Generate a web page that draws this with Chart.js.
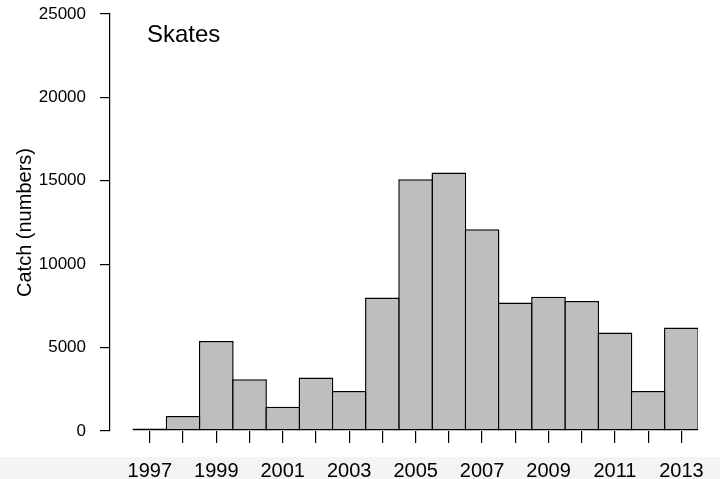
<!DOCTYPE html>
<html>
<head>
<meta charset="utf-8">
<script src="https://cdn.jsdelivr.net/npm/chart.js@4/dist/chart.umd.min.js"></script>
<style>
  html, body { margin: 0; padding: 0; }
  body { background: linear-gradient(to bottom, #ffffff 0, #ffffff 457px, #f4f4f4 457px); }
  #wrap { width: 720px; height: 479px; position: relative; }
</style>
</head>
<body>
<div id="wrap"><canvas id="skatesChart"></canvas></div>
<script>
// catch of skates per year
const years = [1997, 1998, 1999, 2000, 2001, 2002, 2003, 2004, 2005, 2006, 2007, 2008, 2009, 2010, 2011, 2012, 2013];
const catchNumbers = [0, 900, 5400, 3100, 1450, 3200, 2400, 8000, 15100, 15500, 12100, 7700, 8050, 7800, 5900, 2400, 6200];
const yTicks = [0, 5000, 10000, 15000, 20000, 25000];
const panelLabel = 'Skates';

const FONT = "'Liberation Sans', Arial, sans-serif";

// little plugin to write the panel label inside the plot
const panelText = {
    id: 'panelText',
    afterDraw(chart) {
        const ctx = chart.ctx;
        ctx.save();
        ctx.font = '24px ' + FONT;
        ctx.fillStyle = '#000';
        ctx.textBaseline = 'alphabetic';
        ctx.fillText(panelLabel, 147, 42);
        ctx.restore();
    }
};

const ctx = document.getElementById('skatesChart').getContext('2d');
new Chart(ctx, {
    type: 'bar',
    data: {
        datasets: [{
            data: years.map((y, i) => ({ x: y, y: catchNumbers[i] })),
            backgroundColor: '#bebebe',
            borderColor: '#000',
            borderWidth: 1.5,
            borderSkipped: false,
            // slight overlap so neighbouring bars share one outline
            barPercentage: 1.045,
            categoryPercentage: 1,
            minBarLength: 2.5
        }]
    },
    options: {
        responsive: true,
        maintainAspectRatio: false,
        animation: false,
        layout: { padding: { top: 14, right: 22, left: 0, bottom: 0 } },
        plugins: {
            legend: { display: false },
            tooltip: { enabled: false }
        },
        scales: {
            x: {
                type: 'linear',
                offset: false,
                min: 1995.8,
                max: 2013.5,
                afterBuildTicks: scale => { scale.ticks = years.map(v => ({ value: v })); },
                afterFit: scale => { scale.height = 48; scale.paddingLeft = 0; scale.paddingRight = 0; },
                border: { display: false },
                grid: { offset: false, drawOnChartArea: false, drawTicks: true, tickLength: 12, color: '#000', lineWidth: 1.2 },
                ticks: {
                    autoSkip: false,
                    maxRotation: 0,
                    padding: 16,
                    color: '#000',
                    font: { family: FONT, size: 20 },
                    callback: v => (v % 2 === 1 ? String(v) : '')
                }
            },
            y: {
                min: 0,
                max: 25000,
                afterBuildTicks: scale => { scale.ticks = yTicks.map(v => ({ value: v })); },
                afterFit: scale => { scale.width = 110; scale.paddingTop = 0; scale.paddingBottom = 0; },
                border: { display: true, color: '#000', width: 1.2 },
                grid: { drawOnChartArea: false, drawTicks: true, tickLength: 10, color: '#000', lineWidth: 1.2 },
                ticks: {
                    padding: 14,
                    color: '#000',
                    font: { family: FONT, size: 17 },
                    callback: v => String(v)
                },
                title: {
                    display: true,
                    text: 'Catch (numbers)',
                    color: '#000',
                    font: { family: FONT, size: 20 },
                    padding: { top: 13, bottom: 0 }
                }
            }
        }
    },
    plugins: [panelText]
});
</script>
</body>
</html>
